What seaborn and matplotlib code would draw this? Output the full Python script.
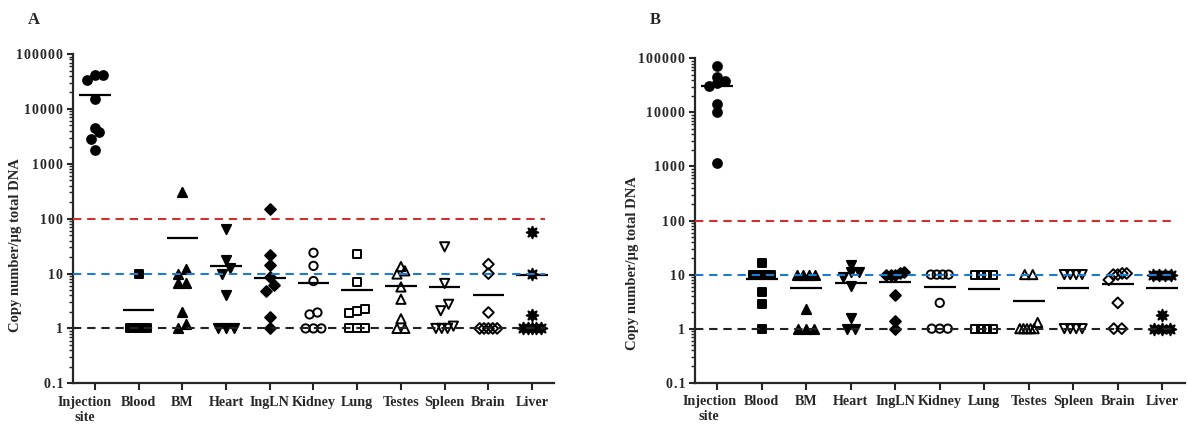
import numpy as np
import matplotlib
matplotlib.use("Agg")
import matplotlib.pyplot as plt
import seaborn as sns
from matplotlib.ticker import FixedLocator, LogLocator, NullFormatter, FuncFormatter
from matplotlib.transforms import ScaledTranslation

# tissues on the x axis
categories = ["Injection\nsite", "Blood", "BM", "Heart", "IngLN", "Kidney",
              "Lung", "Testes", "Spleen", "Brain", "Liver"]

# panel A, copy number / ug total DNA
inj_a = [41700, 33900, 41700, 15200, 4500, 3800, 2830, 1780]
blood_a = [10, 1, 1, 1, 1, 1, 1, 1]
bm_a = [305, 12, 10, 6.7, 6.7, 2.0, 1.2, 1.0]
heart_a = [65, 17.6, 12.6, 10, 4.0, 1, 1, 1]
ingln_a = [150, 21.7, 14.2, 8.6, 6.1, 4.8, 1.6, 1]
kidney_a = [23.9, 13.8, 7.3, 1.95, 1.8, 1, 1, 1]
lung_a = [22.6, 7.0, 2.3, 2.1, 1.9, 1, 1, 1]
testes_a = [13.4, 11.2, 9.8, 5.7, 3.4, 1.5, 1, 1]
spleen_a = [30.7, 6.6, 2.75, 2.1, 1.1, 1, 1, 1]
brain_a = [14.8, 10, 1.95, 1, 1, 1, 1, 1]
liver_a = [57.5, 10, 1.74, 1, 1, 1, 1, 1]
means_a = [18000, 2.15, 44, 13.6, 8.2, 6.6, 5.0, 6.0, 5.7, 4.0, 9.3]

# panel B
inj_b = [71900, 45600, 38500, 34400, 30700, 14100, 10300, 1140]
blood_b = [16.6, 10, 10, 10, 10, 4.8, 2.86, 1]
bm_b = [10, 10, 10, 10, 2.28, 1, 1, 1]
heart_b = [15, 11.3, 11.3, 9.1, 6.1, 1.55, 1, 1]
ingln_b = [11, 10.5, 10, 10, 10, 4.2, 1.4, 1]
kidney_b = [10, 10, 10, 10, 3.0, 1, 1, 1]
lung_b = [10, 10, 10, 10, 1, 1, 1, 1]
testes_b = [10, 10, 1.3, 1, 1, 1, 1, 1]
spleen_b = [10, 10, 10, 10, 1, 1, 1, 1]
brain_b = [10.5, 10.5, 10, 10, 8, 3, 1, 1]
liver_b = [10, 10, 10, 10, 1.79, 1, 1, 1]
means_b = [30700, 8.3, 5.7, 6.9, 7.2, 5.8, 5.4, 3.3, 5.6, 6.7, 5.7]

# reference levels
thresholds = [1, 10, 100]
threshold_colors = ["#222222", "#1f7ccc", "#d0302f"]

markers = ["o", "s", "^", "v", "D", "o", "s", "^", "v", "D", (8, 1, 0)]
filled = [True] * 5 + [False] * 5 + [True]
sizes = [40, 36, 44, 44, 30, 36, 34, 44, 44, 30, 70]

sns.set_style("ticks")
plt.rcParams["font.family"] = ["Liberation Serif", "DejaVu Serif"]
plt.rcParams["font.weight"] = "bold"
plt.rcParams["axes.labelweight"] = "bold"


def dot_offsets(vals, step=0.18, width=0.4, gap=0.13):
    """Spread points that sit at about the same height, like a column scatter."""
    logs = np.log10(vals)
    order = np.argsort(logs, kind="stable")
    offsets = np.zeros(len(vals))
    rows, row = [], [order[0]]
    for i in order[1:]:
        if logs[i] - logs[row[0]] < gap:
            row.append(i)
        else:
            rows.append(row)
            row = [i]
    rows.append(row)
    for row in rows:
        k = len(row)
        if k > 1:
            s = min(step, width / (k - 1))
            offsets[row] = (np.arange(k) - (k - 1) / 2) * s
    return offsets


def draw_panel(ax, groups, means, first_shift):
    ax.set_yscale("log")
    for i, vals in enumerate(groups):
        vals = np.asarray(vals, dtype=float)
        x = i + dot_offsets(vals)
        sns.scatterplot(x=x, y=vals, marker=markers[i], s=sizes[i], color="k",
                        facecolor="k" if filled[i] else "none", edgecolor="k",
                        linewidth=1.4, ax=ax, zorder=2, legend=False)
    idx = np.arange(len(means))
    ax.hlines(means, idx - 0.36, idx + 0.36, colors="k", lw=1.6, zorder=3)
    ax.hlines(thresholds, -0.5, 10.3, colors=threshold_colors,
              linestyles=[(0, (4, 2.8))], lw=1.5, zorder=4)

    ax.set_xlim(-0.5, 10.5)
    ax.set_ylim(0.1, 1e5)
    ax.set_xticks(idx)
    # the two-line label sits a little left of its tick in the original,
    # so it is drawn as a separate text
    tick_labels = [""] + categories[1:]
    ax.set_xticklabels(tick_labels, fontsize=10.2)
    offset = ScaledTranslation(first_shift / 100, -12.5 / 100, ax.figure.dpi_scale_trans)
    ax.text(0, 0, categories[0], transform=ax.get_xaxis_transform() + offset,
            ha="center", va="top", fontsize=10.2)

    ax.yaxis.set_major_locator(FixedLocator([0.1, 1, 10, 100, 1000, 10000, 100000]))
    ax.yaxis.set_minor_locator(LogLocator(base=10, subs=np.arange(2, 10), numticks=20))
    ax.yaxis.set_minor_formatter(NullFormatter())
    ax.yaxis.set_major_formatter(FuncFormatter(lambda v, p: "\u200a".join(f"{v:g}")))
    ax.tick_params(axis="y", which="major", length=4, width=1.5, pad=3, labelsize=10)
    ax.tick_params(axis="y", which="minor", length=3, width=1.0)
    ax.tick_params(axis="x", length=5, width=1.5, pad=4)
    ax.set_xlabel("")
    ax.set_ylabel("Copy number/\u00b5g total DNA", fontsize=10.5)
    sns.despine(ax=ax)
    for side in ["left", "bottom"]:
        ax.spines[side].set_linewidth(1.6)


fig = plt.figure(figsize=(11.87, 4.26), dpi=100)
ax_a = fig.add_axes([0.0615, 0.1002, 0.4052, 0.773])
ax_b = fig.add_axes([0.5855, 0.1016, 0.4124, 0.7615])

draw_panel(ax_a, [inj_a, blood_a, bm_a, heart_a, ingln_a, kidney_a, lung_a,
                  testes_a, spleen_a, brain_a, liver_a], means_a, -10)
draw_panel(ax_b, [inj_b, blood_b, bm_b, heart_b, ingln_b, kidney_b, lung_b,
                  testes_b, spleen_b, brain_b, liver_b], means_b, -8)

ax_a.yaxis.set_label_coords(-0.106, 0.42)
ax_b.yaxis.set_label_coords(-0.114, 0.37)

fig.text(28 / 1187, 1 - 12 / 426, "A", fontsize=12, va="top")
fig.text(650 / 1187, 1 - 12 / 426, "B", fontsize=12, va="top")

fig.savefig("out.png", dpi=100)
